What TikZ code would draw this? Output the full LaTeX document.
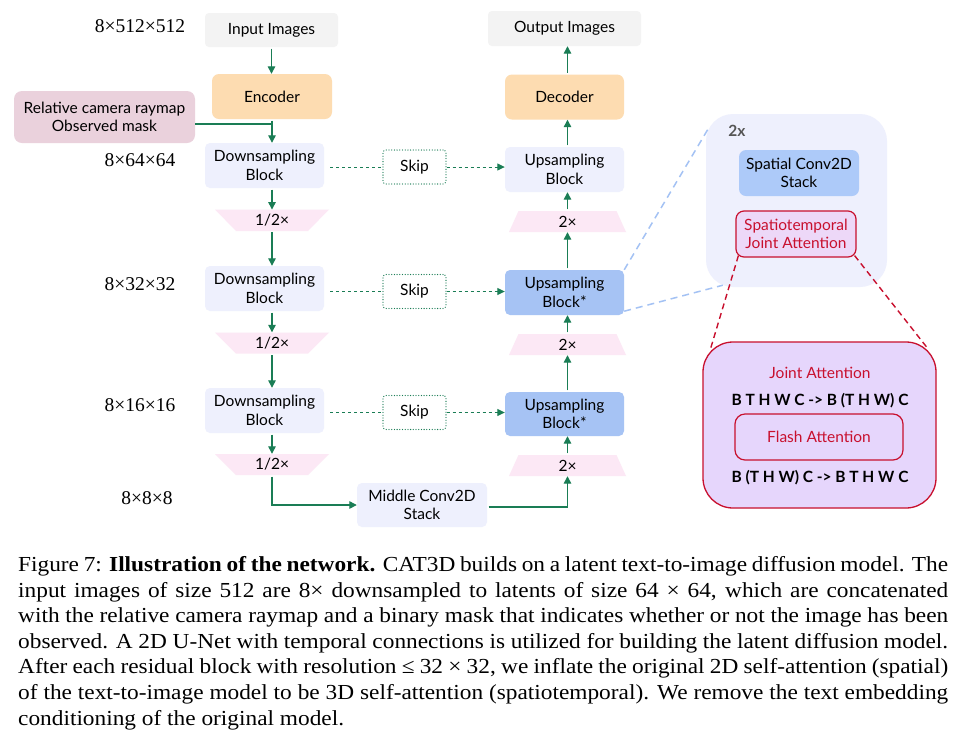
\documentclass[tikz,border=0pt]{standalone}
\usepackage{fontspec}
\setmainfont{Lato}
\newfontfamily\capfont[FakeStretch=1.09]{Liberation Serif}
\newfontfamily\dimfont{Liberation Serif}
\usetikzlibrary{arrows.meta,calc}
\definecolor{cgray}{HTML}{F3F3F3}
\definecolor{corange}{HTML}{FDDCB1}
\definecolor{cmauve}{HTML}{EAD1DC}
\definecolor{clav}{HTML}{EEF0FD}
\definecolor{cpink}{HTML}{FCE8F5}
\definecolor{cblue}{HTML}{A6C3F4}
\definecolor{cblueL}{HTML}{ADCAF9}
\definecolor{cgreen}{HTML}{1A7D55}
\definecolor{cred}{HTML}{C8102E}
\definecolor{cviolet}{HTML}{E6D6FC}
\definecolor{cvioletL}{HTML}{EDD8F8}
\definecolor{cbluedash}{HTML}{A4C2F4}
\definecolor{cdark}{HTML}{555555}
\newcommand\dfont{\fontsize{15.5}{18.5}\selectfont}
\newcommand\dimlab{\dimfont\fontsize{19.5}{22}\selectfont}
\tikzset{
  blk/.style={rounded corners=5pt, inner sep=0pt, align=center, font=\dfont,
    minimum width=119pt, minimum height=45pt},
  graybox/.style={blk, fill=cgray, rounded corners=4pt},
  orangebox/.style={blk, fill=corange, rounded corners=7pt},
  lavbox/.style={blk, fill=clav},
  bluebox/.style={blk, fill=cblue},
  trapnode/.style={inner sep=0pt, font=\dfont, minimum height=21pt, minimum width=100pt},
  skipbox/.style={blk, minimum width=63pt, minimum height=34pt, rounded corners=3pt,
    draw=cgreen, line width=1.3pt, dash pattern=on 0pt off 2.7pt, line cap=round},
  arr/.style={draw=cgreen, line width=1.3pt, -{Triangle[length=7.5pt,width=7.5pt]}, shorten <=1.5pt},
  ln/.style={draw=cgreen, line width=1.3pt},
  skipln/.style={draw=cgreen, line width=1pt, dash pattern=on 3pt off 3pt},
  skiparr/.style={skipln, -{Triangle[length=7.5pt,width=7pt]}},
  dimnode/.style={inner sep=0pt, font=\dimlab},
  bluedash/.style={draw=cbluedash, line width=1.5pt, dash pattern=on 7pt off 5pt},
  reddash/.style={draw=cred, line width=1.4pt, dash pattern=on 6pt off 4pt},
  redtext/.style={inner sep=0pt, font=\dfont, text=cred, align=center},
  boldtext/.style={inner sep=0pt, font=\dfont\bfseries},
}
\begin{document}
\begin{tikzpicture}[x=1pt,y=-1pt]
\useasboundingbox (0,0) rectangle (962,740);
\fill[white] (0,0) rectangle (962,740);

% ---------- left column ----------
\node[graybox, minimum width=133pt, minimum height=34pt] (inp) at (271.5,30) {Input Images};
\node[orangebox, minimum width=120pt] (enc) at (272,96.5) {Encoder};
\node[blk, fill=cmauve, minimum width=181pt, minimum height=52pt, rounded corners=8pt] (raym) at (104.5,117) {Relative camera raymap\\Observed mask};
\node[lavbox] (ds1) at (264.5,165.5) {Downsampling\\Block};
\node[lavbox] (ds2) at (264.5,288.5) {Downsampling\\Block};
\node[lavbox] (ds3) at (264.5,410.5) {Downsampling\\Block};
\node[lavbox, minimum width=130pt, minimum height=44pt] (mid) at (422,505) {Middle Conv2D\\Stack};

% down trapezoids
\fill[cpink] (215,209.5) -- (329,209.5) -- (308,231) -- (236,231) -- cycle;
\node[trapnode] (t1) at (272,220.25) {1/2×};
\fill[cpink] (215,332.5) -- (329,332.5) -- (308,353.5) -- (236,353.5) -- cycle;
\node[trapnode] (t2) at (272,343) {1/2×};
\fill[cpink] (215,454) -- (329,454) -- (308,475) -- (236,475) -- cycle;
\node[trapnode] (t3) at (272,464.5) {1/2×};

% skip boxes
\node[skipbox] (sk1) at (414.5,167) {Skip};
\node[skipbox] (sk2) at (414.5,291.5) {Skip};
\node[skipbox] (sk3) at (414.5,412.5) {Skip};

% ---------- right column ----------
\node[graybox, minimum width=153pt, minimum height=35pt] (out) at (564.5,28.5) {Output Images};
\node[orangebox] (dec) at (564.5,97) {Decoder};
\node[lavbox] (ub1) at (564.5,169.5) {Upsampling\\Block};
\node[bluebox] (ub2) at (564.5,292.5) {Upsampling\\Block*};
\node[bluebox, minimum height=44pt] (ub3) at (564.5,414) {Upsampling\\Block*};

% up trapezoids
\fill[cpink] (518.5,211) -- (616.5,211) -- (626,232) -- (509,232) -- cycle;
\node[trapnode] (u1t) at (567.5,221.5) {2×};
\fill[cpink] (518.5,334) -- (616.5,334) -- (626,355) -- (509,355) -- cycle;
\node[trapnode] (u2t) at (567.5,344.5) {2×};
\fill[cpink] (518.5,455) -- (616.5,455) -- (626,476) -- (509,476) -- cycle;
\node[trapnode] (u3t) at (567.5,465.5) {2×};

% dimension labels
\node[dimnode] (d1) at (140,26) {8×512×512};
\node[dimnode] (d2) at (140,160) {8×64×64};
\node[dimnode] (d3) at (140,284) {8×32×32};
\node[dimnode] (d4) at (140,405) {8×16×16};
\node[dimnode] (d5) at (147,498) {8×8×8};

% ---------- connectors ----------
\draw[arr] (inp.south) -- (inp.south |- enc.north);
\draw[ln] ([yshift=-7pt]raym.east) -- ([yshift=-7pt]raym.east -| enc.south);
\draw[arr] (enc.south) -- (enc.south |- ds1.north);
\draw[arr] (t1.north |- ds1.south) -- (t1.north);
\draw[arr] (t1.south) -- (t1.south |- ds2.north);
\draw[arr] (t2.north |- ds2.south) -- (t2.north);
\draw[arr] (t2.south) -- (t2.south |- ds3.north);
\draw[arr] (t3.north |- ds3.south) -- (t3.north);
\draw[arr] (t3.south) |- (mid.west);
\draw[arr] ([yshift=-2pt]mid.east) -| (u3t.south);
\draw[arr] (u3t.north) -- (u3t.north |- ub3.south);
\draw[arr] (u2t.south |- ub3.north) -- (u2t.south);
\draw[arr] (u2t.north) -- (u2t.north |- ub2.south);
\draw[arr] (u1t.south |- ub2.north) -- (u1t.south);
\draw[arr] (u1t.north) -- (u1t.north |- ub1.south);
\draw[arr] (u1t.north |- ub1.north) -- (u1t.north |- dec.south);
\draw[arr] (u1t.north |- dec.north) -- (u1t.north |- out.south);

\draw[skipln, shorten <=6pt] (ds1.east |- sk1.west) -- (sk1.west);
\draw[skiparr] (sk1.east) -- (sk1.east -| ub1.west);
\draw[skipln, shorten <=6pt] (ds2.east |- sk2.west) -- (sk2.west);
\draw[skiparr] (sk2.east) -- (sk2.east -| ub2.west);
\draw[skipln, shorten <=6pt] (ds3.east |- sk3.west) -- (sk3.west);
\draw[skiparr] (sk3.east) -- (sk3.east -| ub3.west);

% ---------- right panel ----------
\node[fill=clav, rounded corners=27pt, minimum width=181pt, minimum height=173pt, inner sep=0pt] (cont) at (796.5,200.5) {};
\node[inner sep=0pt, font=\dfont\bfseries, text=cdark] (twox) at (737,131) {2x};
\node[blk, fill=cblueL, minimum width=120pt, minimum height=46pt, rounded corners=7pt] (spat) at (799,173) {Spatial Conv2D\\Stack};
\node[blk, fill=cvioletL, draw=cred, line width=1.2pt, text=cred, minimum width=120pt, minimum height=46pt, rounded corners=8pt] (stja) at (796,234) {Spatiotemporal\\Joint Attention};

\node[fill=cviolet, draw=cred, line width=1.3pt, rounded corners=30pt, minimum width=233pt, minimum height=166pt, inner sep=0pt] (ja) at (819.5,425) {};
\node[redtext] (jat) at (820,373) {Joint Attention};
\node[boldtext] (r1) at (820,401) {B T H W C -> B (T H W) C};
\node[blk, draw=cred, line width=1.2pt, text=cred, minimum width=168pt, minimum height=46pt, rounded corners=10pt] (fa) at (819,437) {Flash Attention};
\node[boldtext] (r2) at (820,478) {B (T H W) C -> B T H W C};

\draw[bluedash] (ub2.north east) -- ($(cont.north west)+(3,14)$);
\draw[bluedash] ([yshift=4pt]ub2.south east) -- ($(cont.south west)+(17,-2)$);
\draw[reddash] ($(stja.south west)+(3,-2)$) -- ($(ja.north west)+(8,8)$);
\draw[reddash] ($(stja.south east)+(-2,-2)$) -- ($(ja.north east)+(-9,7)$);

% ---------- caption ----------
\node[inner sep=0pt, anchor=base west, text width=930pt, align=justify,
  font=\capfont\fontsize{21.4}{25.55}\selectfont] (cap) at (18,571.7)
{Figure 7: {\bfseries Illustration of the network.} CAT3D builds on a latent text-to-image diffusion model. The\linebreak
input images of size 512 are 8× downsampled to latents of size 64 × 64, which are concatenated\linebreak
with the relative camera raymap and a binary mask that indicates whether or not the image has been\linebreak
observed. A 2D U-Net with temporal connections is utilized for building the latent diffusion model.\linebreak
After each residual block with resolution ≤ 32 × 32, we inflate the original 2D self-attention (spatial)\linebreak
of the text-to-image model to be 3D self-attention (spatiotemporal). We remove the text embedding\linebreak
conditioning of the original model.};
\end{tikzpicture}
\end{document}
